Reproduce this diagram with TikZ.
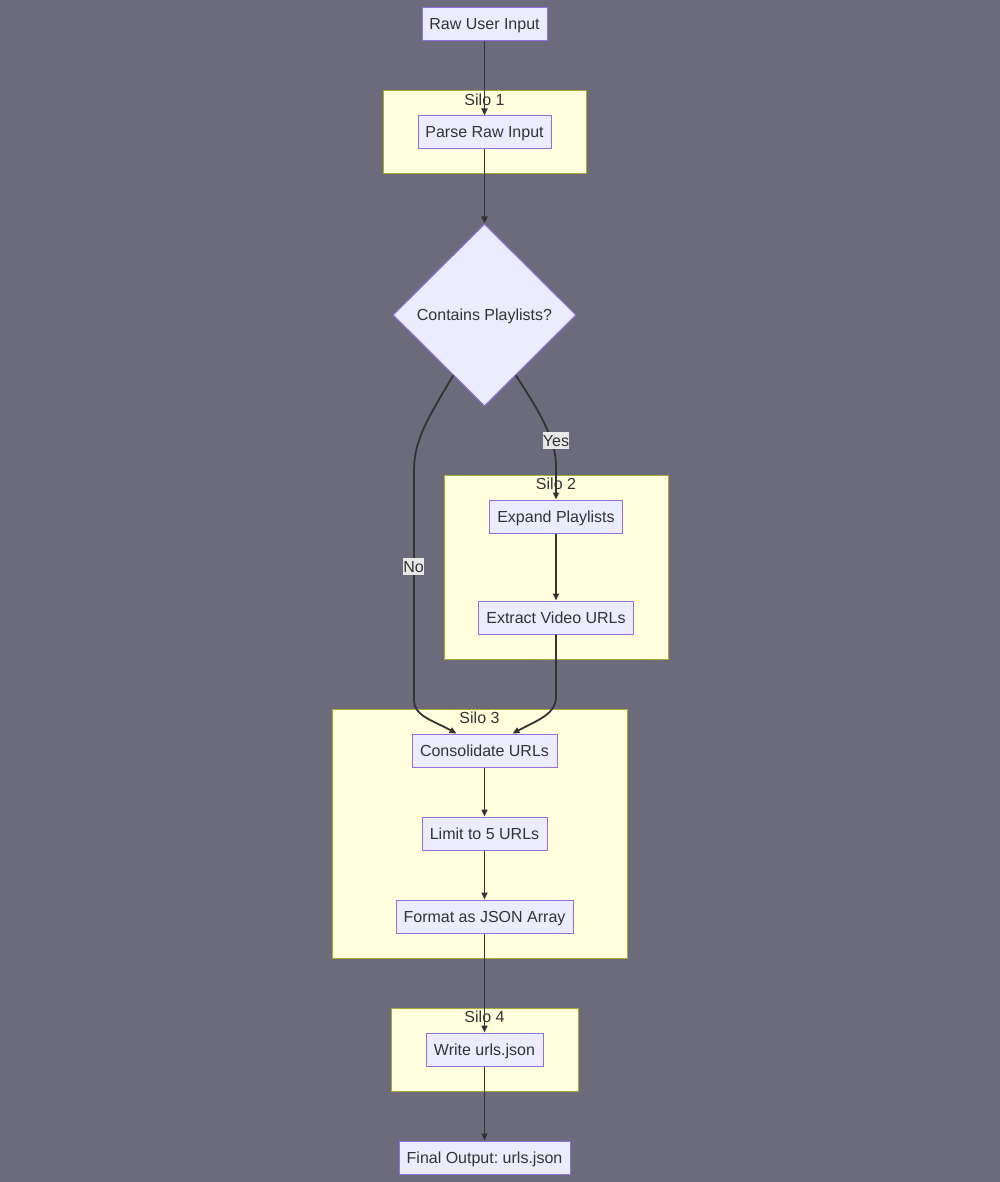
\documentclass[tikz,border=0pt]{standalone}
\usepackage{fontspec}
\setmainfont{Liberation Sans}
\usetikzlibrary{shapes.geometric,arrows.meta,calc}
\definecolor{bg}{HTML}{6B6B7B}
\definecolor{nodefill}{HTML}{ECECFF}
\definecolor{nodeline}{HTML}{9370DB}
\definecolor{silofill}{HTML}{FFFFDE}
\definecolor{siloline}{HTML}{AAAA33}
\definecolor{edgecol}{HTML}{333333}
\definecolor{lblbg}{HTML}{E8E8E8}
\definecolor{txt}{HTML}{333333}
\frenchspacing
\begin{document}
\begin{tikzpicture}[x=1pt,y=-1pt,
 every node/.style={font=\fontsize{16}{19}\selectfont\frenchspacing, text=txt, text height=11.5pt, text depth=0.5pt},
 proc/.style={draw=nodeline, fill=nodefill, line width=1pt, minimum height=33pt, inner sep=0pt},
 silo/.style={draw=siloline, fill=silofill, line width=1pt, inner sep=0pt},
 silotitle/.style={inner sep=0pt},
 flow/.style={draw=edgecol, line width=1.8pt, -{Triangle[length=7pt,width=6pt]}},
 lbl/.style={fill=lblbg, inner xsep=0pt, inner ysep=2.5pt}]
\fill[bg] (0,0) rectangle (1000,1182);
\useasboundingbox (0,0) rectangle (1000,1182);
% silos
\node[silo, minimum width=203pt, minimum height=83pt] (s1) at (484.5,132.5) {};
\node[silo, minimum width=224pt, minimum height=184pt] (s2) at (556,567) {};
\node[silo, minimum width=295pt, minimum height=249pt] (s3) at (479.5,833.5) {};
\node[silo, minimum width=187pt, minimum height=83pt] (s4) at (484.5,1049.5) {};
\node[silotitle] (t1) at (484.5,100) {Silo 1};
\node[silotitle] (t2) at (556,484) {Silo 2};
\node[silotitle] (t3) at (479.5,718) {Silo 3};
\node[silotitle] (t4) at (484.5,1017) {Silo 4};
% nodes
\node[proc, minimum width=125pt] (raw) at (484.5,24.5) {Raw User Input};
\node[proc, minimum width=133pt] (parse) at (484.5,132.5) {Parse Raw Input};
\node[diamond, draw=nodeline, fill=nodefill, line width=1pt, inner sep=0pt, minimum width=183pt, minimum height=182pt] (dia) at (484.5,315) {Contains Playlists?};
\node[proc, minimum width=133pt] (expand) at (556,516.5) {Expand Playlists};
\node[proc, minimum width=155pt] (extract) at (556,617.5) {Extract Video URLs};
\node[proc, minimum width=145pt] (cons) at (484.5,750.5) {Consolidate URLs};
\node[proc, minimum width=125pt] (limit) at (484.5,833.5) {Limit to 5 URLs};
\node[proc, minimum width=177pt] (format) at (484.5,916.5) {Format as JSON Array};
\node[proc, minimum width=117pt] (write) at (484.5,1049.5) {Write urls.json};
\node[proc, minimum width=171pt] (final) at (484.5,1157.5) {Final Output: urls.json};
% edges
\draw[flow] (raw) -- (parse);
\draw[flow] (parse) -- (dia);
\draw[flow] ($(dia.east)!0.66!(dia.south)$) .. controls (540,412) and (556,440) .. (556,466) -- (expand.north);
\draw[flow] ($(dia.west)!0.66!(dia.south)$) .. controls (428,418) and (414,440) .. (414,470) -- (414,700) .. controls (414,716) and (432,720) .. ($(cons.north)+(-28,0)$);
\draw[flow] (expand) -- (extract);
\draw[flow] (extract.south) -- (556,697) .. controls (556,714) and (538,720) .. ($(cons.north)+(28,0)$);
\draw[flow] (cons) -- (limit);
\draw[flow] (limit) -- (format);
\draw[flow] (format) -- (write);
\draw[flow] (write) -- (final);
% labels
\node[lbl] (yes) at (556,440.5) {Yes};
\node[lbl] (no) at (413.5,566.5) {No};
\end{tikzpicture}
\end{document}
